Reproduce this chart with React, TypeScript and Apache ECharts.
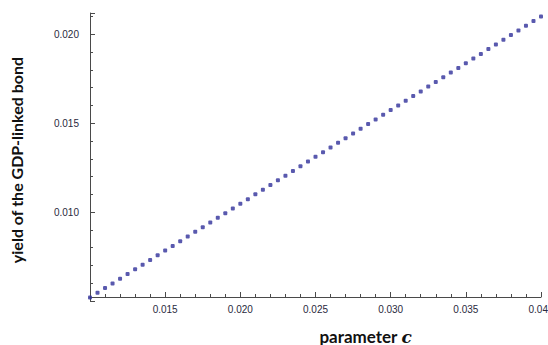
import React, { useEffect, useRef } from "react";
import * as echarts from "echarts";

const xValues = [
  0.0100, 0.0105, 0.0110, 0.0115, 0.0120, 0.0125, 0.0130, 0.0135, 0.0140, 0.0145,
  0.0150, 0.0155, 0.0160, 0.0165, 0.0170, 0.0175, 0.0180, 0.0185, 0.0190, 0.0195,
  0.0200, 0.0205, 0.0210, 0.0215, 0.0220, 0.0225, 0.0230, 0.0235, 0.0240, 0.0245,
  0.0250, 0.0255, 0.0260, 0.0265, 0.0270, 0.0275, 0.0280, 0.0285, 0.0290, 0.0295,
  0.0300, 0.0305, 0.0310, 0.0315, 0.0320, 0.0325, 0.0330, 0.0335, 0.0340, 0.0345,
  0.0350, 0.0355, 0.0360, 0.0365, 0.0370, 0.0375, 0.0380, 0.0385, 0.0390, 0.0395,
  0.0400,
];

const yValues = [
  0.00520, 0.00546, 0.00573, 0.00599, 0.00625, 0.00652, 0.00678, 0.00704, 0.00731, 0.00757,
  0.00784, 0.00810, 0.00836, 0.00863, 0.00889, 0.00915, 0.00942, 0.00968, 0.00994, 0.01021,
  0.01047, 0.01073, 0.01100, 0.01126, 0.01152, 0.01179, 0.01205, 0.01231, 0.01258, 0.01284,
  0.01311, 0.01337, 0.01363, 0.01390, 0.01416, 0.01442, 0.01469, 0.01495, 0.01521, 0.01548,
  0.01574, 0.01600, 0.01627, 0.01653, 0.01679, 0.01706, 0.01732, 0.01758, 0.01785, 0.01811,
  0.01838, 0.01864, 0.01890, 0.01917, 0.01943, 0.01969, 0.01996, 0.02022, 0.02048, 0.02075,
  0.02101,
];

const xTickLabels = ["0.015", "0.020", "0.025", "0.030", "0.035", "0.040"];
const yTickLabels = ["0.010", "0.015", "0.020"];

const axisColor = "#4a4a4a";
const labelColor = "#2a2a40";
const dotColor = "#30309a";

export default function App() {
  const ref = useRef<HTMLDivElement>(null);

  useEffect(() => {
    if (!ref.current) return;
    const chart = echarts.init(ref.current, null, { renderer: "svg" });
    const fmt = (v: number) => {
      const s = v.toFixed(3);
      return xTickLabels.includes(s) || yTickLabels.includes(s) ? s : "";
    };
    chart.setOption({
      animation: false,
      backgroundColor: "#ffffff",
      grid: {
        left: 90,
        right: 7,
        top: 13,
        bottom: 44,
        containLabel: false,
        outerBoundsMode: "none",
      },
      xAxis: {
        type: "value",
        min: 0.01,
        max: 0.04,
        interval: 0.005,
        offset: -4,
        axisLine: { show: true, lineStyle: { color: axisColor, width: 1 } },
        axisTick: { show: true, inside: true, length: 5, lineStyle: { color: axisColor } },
        minorTick: { show: true, splitNumber: 5, length: 3, lineStyle: { color: axisColor } },
        splitLine: { show: false },
        axisLabel: {
          showMinLabel: false,
          margin: 7,
          fontFamily: "Liberation Sans",
          fontSize: 10,
          color: labelColor,
          formatter: fmt,
        },
        name: "{a|parameter }{b|c}",
        nameLocation: "middle",
        nameGap: 31,
        nameTextStyle: {
          padding: [0, 0, 0, 100],
          rich: {
            a: { fontFamily: "Lato", fontWeight: "bold", fontSize: 17, color: "#111" },
            b: { fontFamily: "DejaVu Serif", fontStyle: "italic", fontWeight: "bold", fontSize: 17, color: "#111" },
          },
        },
      },
      yAxis: {
        type: "value",
        min: 0.005,
        max: 0.0212,
        interval: 0.005,
        axisLine: { show: true, lineStyle: { color: axisColor, width: 1 } },
        axisTick: { show: true, inside: true, length: 5, lineStyle: { color: axisColor } },
        minorTick: { show: true, splitNumber: 5, length: 3, lineStyle: { color: axisColor } },
        splitLine: { show: false },
        axisLabel: {
          showMinLabel: false,
          showMaxLabel: false,
          margin: 11,
          fontFamily: "Liberation Sans",
          fontSize: 10,
          color: labelColor,
          formatter: fmt,
        },
        name: "yield of the GDP-linked bond",
        nameLocation: "middle",
        nameGap: 66,
        nameTextStyle: {
          fontFamily: "Lato",
          fontWeight: "bold",
          fontSize: 16,
          color: "#111",
          padding: [0, 0, 0, -6],
        },
      },
      series: [
        {
          type: "scatter",
          data: xValues.map((x, i) => [x, yValues[i]]),
          symbol: "roundRect",
          symbolSize: 4,
          itemStyle: { color: dotColor },
          clip: false,
        },
      ],
    });
    return () => chart.dispose();
  }, []);

  return (
    <div
      ref={ref}
      style={{ position: "absolute", left: 0, top: 0, width: 548, height: 345 }}
    />
  );
}
